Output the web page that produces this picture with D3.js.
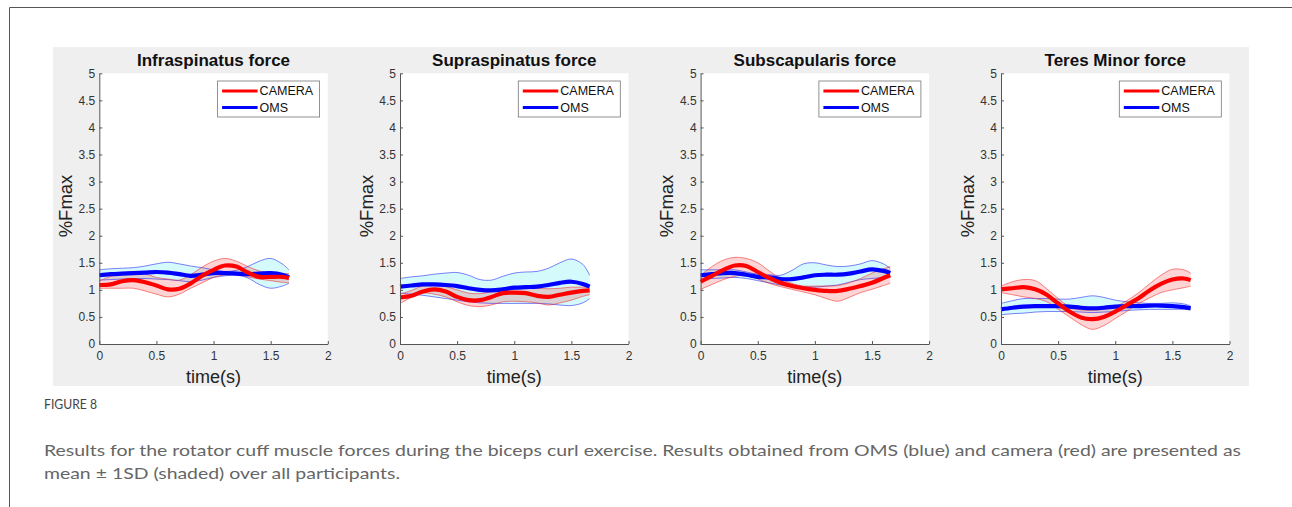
<!DOCTYPE html>
<html>
<head>
<meta charset="utf-8">
<script src="https://cdn.jsdelivr.net/npm/d3@7"></script>
<style>
  html, body { margin: 0; padding: 0; background: #fff; }
  svg { display: block; }
</style>
</head>
<body>
<svg id="chart" width="1292" height="507"></svg>
<script>
// ---------- DATA ----------
const panelTitles = ["Infraspinatus force", "Supraspinatus force", "Subscapularis force", "Teres Minor force"];
const seriesNames = ["CAMERA", "OMS"];
const time = [0, 0.1, 0.2, 0.3, 0.4, 0.5, 0.6, 0.7, 0.8, 0.9, 1.0, 1.1, 1.2, 1.3, 1.4, 1.5, 1.6, 1.66];

// Infraspinatus
const infraOmsMean   = [1.27,1.29,1.30,1.31,1.32,1.33,1.32,1.29,1.26,1.28,1.31,1.31,1.30,1.29,1.30,1.31,1.28,1.23];
const infraOmsUpper  = [1.37,1.39,1.40,1.41,1.44,1.48,1.51,1.48,1.44,1.41,1.37,1.34,1.36,1.43,1.53,1.58,1.48,1.37];
const infraOmsLower  = [1.18,1.19,1.20,1.21,1.21,1.20,1.19,1.17,1.15,1.18,1.23,1.26,1.27,1.22,1.10,1.03,1.07,1.12];
const infraCamMean   = [1.09,1.10,1.16,1.18,1.14,1.08,1.01,1.02,1.12,1.26,1.37,1.45,1.43,1.32,1.24,1.24,1.24,1.22];
const infraCamUpper  = [1.17,1.25,1.31,1.34,1.30,1.23,1.20,1.18,1.28,1.42,1.53,1.58,1.53,1.43,1.35,1.30,1.30,1.30];
const infraCamLower  = [1.03,1.03,1.03,1.03,0.98,0.92,0.87,0.92,1.03,1.13,1.23,1.28,1.30,1.24,1.20,1.17,1.14,1.13];

// Supraspinatus
const supraOmsMean   = [1.06,1.08,1.10,1.10,1.09,1.07,1.03,1.00,0.99,1.01,1.04,1.05,1.06,1.09,1.13,1.15,1.11,1.06];
const supraOmsUpper  = [1.21,1.24,1.26,1.29,1.31,1.32,1.27,1.19,1.18,1.25,1.31,1.33,1.34,1.40,1.50,1.57,1.47,1.27];
const supraOmsLower  = [0.94,0.92,0.90,0.87,0.84,0.81,0.78,0.76,0.75,0.75,0.75,0.75,0.75,0.74,0.72,0.71,0.76,0.84];
const supraCamMean   = [0.86,0.89,0.97,1.01,0.97,0.87,0.81,0.81,0.87,0.94,0.95,0.94,0.89,0.87,0.91,0.95,0.98,0.99];
const supraCamUpper  = [0.92,0.99,1.07,1.08,1.06,1.00,0.94,0.93,0.97,1.03,1.06,1.05,1.03,1.02,1.03,1.05,1.05,1.05];
const supraCamLower  = [0.75,0.86,0.94,0.92,0.87,0.78,0.71,0.69,0.72,0.78,0.79,0.78,0.76,0.72,0.76,0.81,0.88,0.91];

// Subscapularis
const subscOmsMean   = [1.27,1.29,1.31,1.31,1.28,1.24,1.23,1.20,1.20,1.23,1.27,1.28,1.28,1.30,1.34,1.38,1.35,1.31];
const subscOmsUpper  = [1.37,1.37,1.37,1.37,1.33,1.29,1.28,1.27,1.36,1.48,1.50,1.46,1.43,1.44,1.48,1.54,1.48,1.40];
const subscOmsLower  = [1.20,1.21,1.22,1.23,1.21,1.17,1.13,1.09,1.07,1.06,1.05,1.07,1.09,1.14,1.19,1.21,1.23,1.24];
const subscCamMean   = [1.15,1.26,1.37,1.45,1.44,1.33,1.22,1.13,1.07,1.03,1.00,0.98,0.98,1.02,1.07,1.13,1.22,1.27];
const subscCamUpper  = [1.27,1.43,1.55,1.60,1.58,1.50,1.35,1.21,1.12,1.07,1.07,1.07,1.08,1.13,1.21,1.31,1.39,1.43];
const subscCamLower  = [1.01,1.10,1.19,1.25,1.27,1.20,1.12,1.06,1.01,0.96,0.91,0.84,0.79,0.86,0.95,1.01,1.08,1.12];

// Teres Minor
const teresOmsMean   = [0.64,0.67,0.69,0.70,0.70,0.70,0.69,0.67,0.66,0.67,0.69,0.70,0.70,0.71,0.71,0.70,0.68,0.66];
const teresOmsUpper  = [0.75,0.80,0.84,0.84,0.84,0.83,0.83,0.86,0.89,0.86,0.81,0.78,0.76,0.75,0.75,0.76,0.74,0.70];
const teresOmsLower  = [0.54,0.56,0.57,0.59,0.60,0.60,0.60,0.59,0.58,0.59,0.60,0.62,0.63,0.64,0.64,0.64,0.64,0.63];
const teresCamMean   = [1.01,1.03,1.05,1.01,0.91,0.75,0.60,0.49,0.46,0.50,0.60,0.72,0.84,0.99,1.11,1.19,1.21,1.18];
const teresCamUpper  = [1.07,1.15,1.19,1.17,1.02,0.84,0.69,0.63,0.62,0.64,0.69,0.80,0.94,1.11,1.27,1.38,1.37,1.31];
const teresCamLower  = [0.95,0.91,0.87,0.84,0.78,0.64,0.50,0.36,0.27,0.34,0.47,0.60,0.74,0.85,0.95,1.00,1.04,1.07];

const yTickValues = [0, 0.5, 1, 1.5, 2, 2.5, 3, 3.5, 4, 4.5, 5];
const yTickLabels = ["0", "0.5", "1", "1.5", "2", "2.5", "3", "3.5", "4", "4.5", "5"];
const xTickValues = [0, 0.5, 1, 1.5, 2];
const xTickLabels = ["0", "0.5", "1", "1.5", "2"];
const yLabel = "%Fmax";
const xLabel = "time(s)";
const captionTitle = "FIGURE 8";
const captionLine1 = "Results for the rotator cuff muscle forces during the biceps curl exercise. Results obtained from OMS (blue) and camera (red) are presented as";
const captionLine2 = "mean \u00b1 1SD (shaded) over all participants.";

// ---------- BUILD ----------
const panels = [
  { cam: [infraCamMean, infraCamUpper, infraCamLower], oms: [infraOmsMean, infraOmsUpper, infraOmsLower] },
  { cam: [supraCamMean, supraCamUpper, supraCamLower], oms: [supraOmsMean, supraOmsUpper, supraOmsLower] },
  { cam: [subscCamMean, subscCamUpper, subscCamLower], oms: [subscOmsMean, subscOmsUpper, subscOmsLower] },
  { cam: [teresCamMean, teresCamUpper, teresCamLower], oms: [teresOmsMean, teresOmsUpper, teresOmsLower] }
];

const svg = d3.select("#chart");
const font = "'Liberation Sans', Arial, Helvetica, sans-serif";

// outer frame
svg.append("line").attr("x1", 9.5).attr("x2", 1292).attr("y1", 7.5).attr("y2", 7.5)
  .attr("stroke", "#555").attr("stroke-width", 1);
svg.append("line").attr("x1", 9.5).attr("x2", 9.5).attr("y1", 7.5).attr("y2", 507)
  .attr("stroke", "#555").attr("stroke-width", 1);

// gray figure background
svg.append("rect").attr("x", 53).attr("y", 47).attr("width", 1196).attr("height", 339).attr("fill", "#efefef");

const plotW = 228.5, plotTop = 73.3, plotBottom = 344;
const panelLeft = [99.3, 400, 700.6, 1001];

const y = d3.scaleLinear().domain([0, 5]).range([plotBottom, plotTop]);

const colors = {
  camLine: "#ff0000", camFill: "rgba(255,0,0,0.17)", camEdge: "rgba(240,40,40,0.8)",
  omsLine: "#0000ff", omsFill: "rgba(0,225,235,0.17)", omsEdge: "rgba(30,30,240,0.8)"
};

panels.forEach((p, i) => {
  const left = panelLeft[i];
  const x = d3.scaleLinear().domain([0, 2]).range([left, left + plotW]);
  const g = svg.append("g");

  // white axes background
  g.append("rect").attr("x", left).attr("y", plotTop).attr("width", plotW).attr("height", plotBottom - plotTop)
    .attr("fill", "#fff");

  const curve = d3.curveCatmullRom.alpha(0.5);
  const area = (up, lo) => d3.area().x((d, k) => x(time[k])).y0((d, k) => y(lo[k])).y1((d, k) => y(up[k])).curve(curve)(time);
  const line = arr => d3.line().x((d, k) => x(time[k])).y((d, k) => y(arr[k])).curve(curve)(time);

  // bands
  g.append("path").attr("d", area(p.oms[1], p.oms[2])).attr("fill", colors.omsFill);
  g.append("path").attr("d", area(p.cam[1], p.cam[2])).attr("fill", colors.camFill);
  // band edges
  [p.oms[1], p.oms[2]].forEach(a => g.append("path").attr("d", line(a)).attr("fill", "none")
    .attr("stroke", colors.omsEdge).attr("stroke-width", 0.7));
  [p.cam[1], p.cam[2]].forEach(a => g.append("path").attr("d", line(a)).attr("fill", "none")
    .attr("stroke", colors.camEdge).attr("stroke-width", 0.7));
  // means
  g.append("path").attr("d", line(p.oms[0])).attr("fill", "none").attr("stroke", colors.omsLine)
    .attr("stroke-width", 4.2).attr("stroke-linejoin", "round");
  g.append("path").attr("d", line(p.cam[0])).attr("fill", "none").attr("stroke", colors.camLine)
    .attr("stroke-width", 4.2).attr("stroke-linejoin", "round");

  // axes
  const yAxis = d3.axisLeft(y).tickValues(yTickValues).tickFormat((d, k) => yTickLabels[k])
    .tickSizeInner(-3).tickSizeOuter(0).tickPadding(4);
  const xAxis = d3.axisBottom(x).tickValues(xTickValues).tickFormat((d, k) => xTickLabels[k])
    .tickSizeInner(-3).tickSizeOuter(0).tickPadding(7);

  const ya = g.append("g").attr("transform", `translate(${left},0)`).call(yAxis);
  const xa = g.append("g").attr("transform", `translate(0,${plotBottom})`).call(xAxis);
  [ya, xa].forEach(a => {
    a.select(".domain").attr("stroke", "#555");
    a.selectAll(".tick line").attr("stroke", "#555");
    a.selectAll(".tick text").attr("fill", "#333").style("font-family", font).style("font-size", "12px");
  });

  // title
  g.append("text").attr("x", left + plotW / 2).attr("y", 60.5).attr("text-anchor", "middle")
    .attr("dominant-baseline", "central").style("font-family", font).style("font-weight", "bold")
    .style("font-size", "17px").attr("fill", "#111").text(panelTitles[i]);

  // y label
  g.append("text").attr("transform", `translate(${left - 34},206) rotate(-90)`).attr("text-anchor", "middle")
    .attr("dominant-baseline", "central").style("font-family", font).style("font-size", "18.5px")
    .attr("fill", "#222").text(yLabel);

  // x label
  g.append("text").attr("x", left + plotW / 2).attr("y", 377).attr("text-anchor", "middle")
    .attr("dominant-baseline", "central").style("font-family", font).style("font-size", "18px")
    .attr("fill", "#222").text(xLabel);

  // legend
  const lg = g.append("g").attr("transform", `translate(${left + 118.3},81)`);
  lg.append("rect").attr("x", 0).attr("y", 0).attr("width", 102).attr("height", 36)
    .attr("fill", "#fff").attr("stroke", "#777").attr("stroke-width", 0.8);
  const legendColors = [colors.camLine, colors.omsLine];
  seriesNames.forEach((name, k) => {
    const yy = 10 + k * 16.5;
    lg.append("line").attr("x1", 4.5).attr("x2", 40).attr("y1", yy).attr("y2", yy)
      .attr("stroke", legendColors[k]).attr("stroke-width", 3);
    lg.append("text").attr("x", 42).attr("y", yy).attr("dominant-baseline", "central")
      .style("font-family", font).style("font-size", "12.5px").attr("fill", "#111").text(name);
  });
});

// caption
const capFont = "Lato, 'Open Sans', sans-serif";
svg.append("text").attr("x", 44).attr("y", 404).attr("dominant-baseline", "central")
  .style("font-family", capFont).style("font-size", "12.5px").attr("fill", "#444")
  .attr("textLength", 53).attr("lengthAdjust", "spacingAndGlyphs").text(captionTitle);
svg.append("text").attr("x", 44).attr("y", 449).attr("dominant-baseline", "central")
  .style("font-family", capFont).style("font-size", "16px").attr("fill", "#666")
  .attr("textLength", 1197).attr("lengthAdjust", "spacingAndGlyphs").text(captionLine1);
svg.append("text").attr("x", 44).attr("y", 472).attr("dominant-baseline", "central")
  .style("font-family", capFont).style("font-size", "16px").attr("fill", "#666")
  .attr("textLength", 356).attr("lengthAdjust", "spacingAndGlyphs").text(captionLine2);
</script>
</body>
</html>
